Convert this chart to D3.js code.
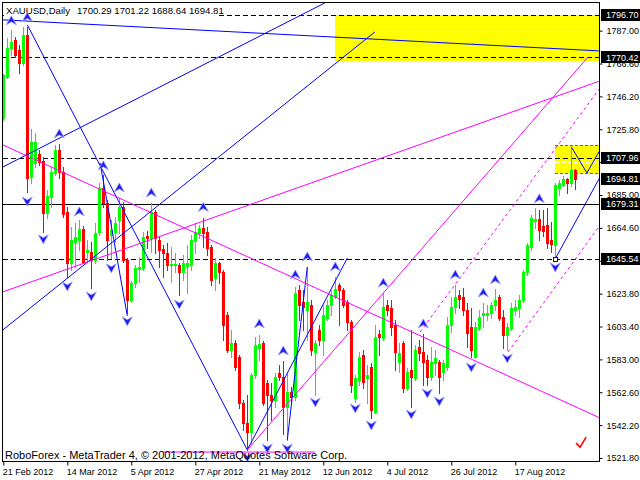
<!DOCTYPE html>
<html><head><meta charset="utf-8">
<script src="https://cdn.jsdelivr.net/npm/d3@7"></script>
<style>body{margin:0;background:#fff}svg{display:block}</style>
</head><body>
<svg id="c" width="640" height="480"></svg>
<script>
const symbolName = "XAUUSD,Daily";
const copyright = "RoboForex - MetaTrader 4, \u00A9 2001-2012, MetaQuotes Software Corp.";

const opens = [1732.9,1758.3,1776.3,1781.3,1775.1,1767.0,1784.4,1696.2,1704.9,1710.5,
1706.2,1673.9,1683.8,1698.7,1713.0,1699.3,1674.5,1642.9,1655.9,1657.1,
1664.0,1649.7,1649.7,1644.7,1662.1,1689.4,1680.1,1660.2,1662.1,1669.6,
1677.6,1644.7,1619.9,1630.4,1639.1,1639.8,1659.6,1658.4,1674.5,1657.1,
1651.6,1649.1,1641.6,1641.6,1641.6,1637.3,1641.0,1641.6,1656.5,1661.5,
1664.6,1662.1,1652.8,1633.6,1642.9,1637.3,1610.6,1588.9,1593.2,1584.5,
1556.0,1543.5,1538.0,1573.3,1590.1,1593.2,1568.4,1560.9,1557.8,1574.6,
1572.1,1553.5,1562.8,1559.7,1626.1,1618.7,1613.7,1616.8,1587.6,1601.3,
1595.1,1608.7,1616.8,1621.8,1629.2,1626.1,1618.7,1606.2,1559.1,1570.2,
1585.8,1571.5,1578.3,1550.4,1598.8,1596.3,1616.8,1614.9,1604.4,1581.4,
1593.2,1565.3,1576.4,1571.5,1590.7,1587.6,1582.7,1572.1,1580.8,1581.4,
1575.2,1578.3,1604.4,1615.5,1623.0,1621.8,1613.7,1603.1,1584.5,1602.5,
1610.6,1610.6,1611.8,1616.8,1621.8,1609.3,1598.2,1602.5,1613.7,1614.9,
1619.9,1637.3,1652.8,1668.9,1670.2,1665.8,1666.4,1657.1,1654.0,1689.4,
1691.3,1695.0,1692.5,1700.29];
const highs = [1760.2,1782.5,1787.5,1783.1,1778.2,1789.3,1789.3,1726.0,1723.6,1713.0,
1708.7,1688.2,1702.4,1716.1,1716.7,1702.4,1677.6,1665.2,1667.7,1669.6,
1665.8,1657.1,1655.9,1667.7,1692.5,1697.5,1682.0,1669.6,1671.4,1683.2,
1680.7,1646.0,1631.7,1641.6,1646.6,1662.1,1662.7,1680.1,1675.8,1659.0,
1654.0,1655.3,1652.8,1649.1,1642.9,1647.8,1654.0,1660.2,1667.7,1666.4,
1670.8,1665.2,1654.0,1646.0,1643.5,1638.5,1612.4,1601.3,1595.1,1585.8,
1557.8,1560.9,1574.6,1596.9,1598.2,1594.4,1570.2,1568.4,1574.6,1579.5,
1582.0,1574.6,1565.9,1628.0,1629.2,1626.1,1640.4,1619.9,1595.1,1604.4,
1616.8,1619.9,1626.1,1634.2,1630.4,1627.3,1619.9,1607.5,1573.3,1587.6,
1588.9,1579.5,1580.8,1604.4,1601.3,1624.2,1619.9,1619.9,1607.5,1593.2,
1594.4,1577.7,1601.3,1592.0,1595.1,1598.8,1585.8,1590.7,1588.9,1582.7,
1582.7,1609.3,1621.8,1629.2,1626.1,1627.3,1618.0,1614.9,1606.2,1613.7,
1618.0,1616.8,1618.7,1626.7,1623.0,1613.7,1605.6,1618.0,1619.9,1623.0,
1638.5,1655.3,1672.7,1677.0,1675.8,1675.8,1677.0,1668.3,1692.5,1694.4,
1696.9,1695.6,1714.2,1701.22];
const lows = [1731.6,1757.7,1772.0,1770.7,1760.8,1765.8,1686.9,1692.5,1702.4,1703.7,
1662.1,1670.8,1677.6,1697.5,1695.6,1671.4,1634.2,1638.5,1640.4,1650.9,
1642.9,1643.5,1627.3,1642.9,1660.2,1677.6,1644.7,1646.0,1655.9,1661.5,
1643.5,1611.8,1618.7,1628.0,1631.1,1638.5,1652.2,1649.7,1649.1,1640.4,
1634.2,1638.5,1631.1,1637.3,1623.0,1632.3,1624.2,1638.5,1649.1,1658.4,
1652.8,1647.8,1629.2,1626.1,1630.4,1595.1,1587.6,1584.5,1576.4,1552.9,
1539.2,1526.8,1531.1,1571.5,1582.7,1554.7,1533.0,1545.4,1553.5,1570.2,
1537.0,1533.0,1556.6,1557.8,1607.5,1601.3,1595.1,1585.8,1560.9,1592.0,
1585.8,1607.5,1610.6,1621.1,1604.4,1615.5,1601.3,1562.8,1556.6,1567.1,
1565.3,1556.0,1546.6,1549.8,1585.8,1595.1,1610.6,1598.2,1576.4,1575.2,
1562.8,1564.0,1553.5,1570.2,1582.7,1567.1,1567.1,1570.2,1573.3,1562.2,
1570.2,1576.4,1600.0,1611.8,1614.9,1610.6,1590.7,1584.5,1583.9,1601.3,
1603.1,1607.5,1608.7,1613.7,1607.5,1590.1,1588.9,1601.3,1610.6,1609.3,
1618.7,1635.4,1650.9,1664.6,1657.1,1659.6,1652.2,1649.7,1645.5,1685.1,
1690.7,1686.3,1690.7,1688.64];
const closes = [1759.6,1776.3,1780.0,1772.0,1767.0,1784.4,1695.6,1718.0,1718.0,1705.6,
1673.9,1684.4,1699.3,1713.0,1699.3,1673.3,1642.9,1657.1,1659.0,1664.0,
1643.5,1650.9,1644.7,1661.5,1689.4,1680.1,1657.1,1663.3,1667.7,1677.6,
1644.7,1619.9,1630.4,1639.8,1640.4,1659.0,1658.4,1674.5,1658.4,1650.9,
1649.1,1641.6,1642.2,1642.2,1637.3,1642.9,1642.9,1657.1,1662.1,1664.6,
1661.5,1652.2,1632.3,1642.9,1637.3,1604.4,1588.9,1593.2,1578.3,1556.0,
1543.5,1538.0,1573.3,1592.0,1592.6,1556.0,1560.9,1557.8,1572.1,1572.1,
1553.5,1562.8,1559.7,1624.2,1616.8,1615.5,1618.7,1588.9,1593.2,1595.1,
1610.6,1616.8,1623.0,1626.7,1626.1,1616.8,1606.2,1567.1,1571.5,1584.5,
1569.0,1573.3,1551.6,1596.9,1596.9,1615.5,1613.7,1603.1,1587.6,1587.0,
1565.3,1575.2,1572.1,1588.9,1587.0,1581.4,1572.1,1581.4,1583.9,1572.1,
1580.8,1604.4,1615.5,1621.8,1620.5,1613.7,1599.4,1588.9,1603.1,1609.3,
1611.8,1611.8,1616.8,1619.9,1608.7,1598.2,1603.1,1614.9,1615.5,1619.9,
1637.3,1654.0,1670.8,1670.2,1663.3,1662.7,1655.3,1654.7,1691.3,1692.5,
1695.0,1692.5,1700.6,1694.81];

const dateLabels = ["21 Feb 2012","14 Mar 2012","5 Apr 2012","27 Apr 2012","21 May 2012","12 Jun 2012","4 Jul 2012","26 Jul 2012","17 Aug 2012"];
const dateLabelBars = [0,16,32,48,64,80,96,112,128];
const yTicks = [1521.80,1542.20,1562.60,1583.00,1603.40,1623.80,1644.20,1664.60,1685.00,1705.40,1725.80,1746.20,1766.60,1787.00];
const yTicksHiddenLabel = [1644.20,1705.40];

const levelPrices = [1796.70,1770.42,1707.96,1679.31,1645.54];
const levelDashed = [true,true,true,false,true];
const tagPrices = [1796.70,1770.42,1707.96,1694.81,1679.31,1645.54];

const boxStartBars = [82.9,138];
const boxEndBars = [149.3,149.3];
const boxTops = [1796.7,1716.1];
const boxBottoms = [1768.2,1698.7];
const boxBorder = [false,true];

const blueLines = [
  [[-0.1,1793.7],[149.2,1774.4]],
  [[6,1790.6],[61,1526.8]],
  [[24.2,1704.9],[31,1610.0]],
  [[-0.1,1702.4],[80.4,1804.2]],
  [[-0.1,1601.3],[92.9,1786.2]],
  [[61,1526.8],[86,1645.9]],
  [[71,1533.0],[76,1640.4]],
  [[138,1645.5],[149.2,1696.2]],
  [[142,1714.9],[145.9,1698.7],[149.2,1713.0]]
];
const magentaLines = [
  [[-0.1,1716.1],[149.2,1546.6]],
  [[-0.1,1624.9],[149.2,1755.8]],
  [[61,1526.8],[146.2,1770.7]],
  [[39.9,1525.5],[77.9,1525.5]]
];
const magentaDashedLines = [
  [[104.2,1600.0],[149.2,1751.5]],
  [[126.2,1587.6],[149.2,1666.4]]
];

const upArrowBars = [2,6,14,19,25,29,37,50,64,70,73,76,83,95,105,113,120,123,134];
const upArrowPrices = [1793.1,1795.2,1722.9,1674.5,1703.1,1689.4,1686.3,1677.3,1605.0,1588.2,1635.4,1646.6,1640.4,1630.4,1605.0,1635.4,1624.2,1632.3,1682.6];
const downArrowBars = [6,10,16,22,27,31,44,61,66,71,78,88,92,102,106,109,117,126,138];
const downArrowPrices = [1681.3,1657.8,1628.6,1622.4,1639.8,1606.9,1617.4,1522.4,1528.0,1528.0,1556.6,1552.9,1542.3,1549.1,1562.2,1557.2,1578.3,1583.9,1640.4];
const squareMarkerBar = 138, squareMarkerPrice = 1645.54;
const checkBar = 144.2, checkPrice = 1531.0;

const FONT = "'Liberation Sans', Arial, sans-serif";
const svg = d3.select("#c");
const x = d3.scaleLinear().domain([0,100]).range([3.3,403.3]);
const y = d3.scaleLinear().domain([1521.8,1796.7]).range([458,15]);
const PL = 3, PR = 599, PT = 3, PB = 461;

svg.append("rect").attr("width",640).attr("height",480).attr("fill","#fff");
svg.append("defs").append("clipPath").attr("id","plot")
  .append("rect").attr("x",PL).attr("y",PT).attr("width",PR-PL).attr("height",PB-PT);
const g = svg.append("g").attr("clip-path","url(#plot)");

// yellow boxes
boxStartBars.forEach((b,i)=>{
  const x0 = Math.round(x(b)), x1 = Math.round(x(boxEndBars[i]));
  const y0 = Math.round(y(boxTops[i])), y1 = Math.round(y(boxBottoms[i]));
  g.append("rect").attr("x",x0).attr("y",y0).attr("width",x1-x0).attr("height",y1-y0).attr("fill","#ffff00");
  if (boxBorder[i]) {
    [y0,y1].forEach(yy=>g.append("line").attr("x1",x0).attr("x2",x1).attr("y1",yy+0.5).attr("y2",yy+0.5)
      .attr("stroke","#ff00ff").attr("stroke-dasharray","3,2"));
  }
});
// grid (white, shows on yellow only)
yTicks.forEach(t=>{
  const yy = Math.round(y(t))+0.5;
  g.append("line").attr("x1",PL).attr("x2",PR).attr("y1",yy).attr("y2",yy)
   .attr("stroke","#fff").attr("stroke-dasharray","4,2");
});
// horizontal levels
levelPrices.forEach((p,i)=>{
  const yy = Math.round(y(p))+0.5;
  g.append("line").attr("x1",PL).attr("x2",PR).attr("y1",yy).attr("y2",yy)
   .attr("stroke","#000").attr("stroke-dasharray",levelDashed[i]?"5,3":null);
});
// title
const last = opens.length-1;
const quoteText = [opens[last],highs[last],lows[last],closes[last]].map(d3.format(".2f")).join(" ");
g.append("rect").attr("x",4).attr("y",4).attr("width",214).attr("height",12).attr("fill","#fff");
g.append("text").attr("x",6).attr("y",14).attr("font-family",FONT).attr("font-size","9.6px").text(symbolName);
g.append("text").attr("x",77).attr("y",14).attr("font-family",FONT).attr("font-size","9.6px").text(quoteText);

// candles
const cg = g.append("g").attr("shape-rendering","crispEdges");
opens.forEach((o,i)=>{
  const c = closes[i], up = c>=o, col = up ? "#00ff00" : "#ff0000";
  const cx = Math.round(x(i));
  const yh = Math.round(y(highs[i])), yl = Math.round(y(lows[i]));
  const yt = Math.round(y(Math.max(o,c))), yb = Math.round(y(Math.min(o,c)));
  cg.append("rect").attr("x",cx).attr("y",yh).attr("width",1).attr("height",Math.max(1,yl-yh+1)).attr("fill",col);
  cg.append("rect").attr("x",cx-1).attr("y",yt).attr("width",3).attr("height",Math.max(1,yb-yt+1)).attr("fill",col);
});

// trend lines
const line = d3.line().x(d=>x(d[0])).y(d=>y(d[1]));
blueLines.forEach(pts=>g.append("path").attr("d",line(pts)).attr("fill","none").attr("stroke","#0000ff").attr("stroke-width",1));
magentaLines.forEach(pts=>g.append("path").attr("d",line(pts)).attr("fill","none").attr("stroke","#ff00ff").attr("stroke-width",1));
magentaDashedLines.forEach(pts=>g.append("path").attr("d",line(pts)).attr("fill","none").attr("stroke","#ff00ff").attr("stroke-width",1).attr("stroke-dasharray","3,3"));

// arrows
const upPath = "M0,-5 L5,4 L0,1 L-5,4 Z";
const downPath = "M0,5 L5,-4 L0,-1 L-5,-4 Z";
upArrowBars.forEach((b,i)=>g.append("path").attr("d",upPath)
  .attr("transform",`translate(${x(b)},${y(upArrowPrices[i])})`)
  .attr("fill","#1c1cf0").attr("stroke","#9a9aff").attr("stroke-width",0.8));
downArrowBars.forEach((b,i)=>g.append("path").attr("d",downPath)
  .attr("transform",`translate(${x(b)},${y(downArrowPrices[i])})`)
  .attr("fill","#1c1cf0").attr("stroke","#9a9aff").attr("stroke-width",0.8));
// square marker
g.append("rect").attr("x",Math.round(x(squareMarkerBar))-2+0.5).attr("y",Math.round(y(squareMarkerPrice))-2+0.5)
  .attr("width",4).attr("height",4).attr("fill","#fff").attr("stroke","#0000ff");
// check mark
const ckx = x(checkBar), cky = y(checkPrice);
g.append("path").attr("d",`M${ckx-4},${cky} L${ckx},${cky+4} L${ckx+6},${cky-6}`)
  .attr("fill","none").attr("stroke","#ff0000").attr("stroke-width",1.6);
// copyright
g.append("text").attr("x",5).attr("y",459).attr("font-family",FONT).attr("font-size","11px").attr("fill","#000").text(copyright);

// frame
svg.append("rect").attr("x",2.5).attr("y",2.5).attr("width",597).attr("height",459)
  .attr("fill","none").attr("stroke","#000");

// right axis
const fmt = d3.format(".2f");
const yAxis = d3.axisRight(y).tickValues(yTicks)
  .tickFormat(d=>yTicksHiddenLabel.includes(d) ? "" : fmt(d)).tickSize(3).tickPadding(4);
const ya = svg.append("g").attr("transform","translate(599.5,0)").call(yAxis);
ya.select(".domain").remove();
ya.selectAll("text").attr("font-family",FONT).attr("font-size","9px").attr("fill","#000");
ya.selectAll("line").attr("stroke","#000");

// price tags
tagPrices.forEach(p=>{
  const yy = y(p);
  svg.append("rect").attr("x",601).attr("y",Math.round(yy)-6).attr("width",39).attr("height",12).attr("fill","#000");
  svg.append("text").attr("x",606).attr("y",yy+3.3).attr("font-family",FONT).attr("font-size","9px")
    .attr("fill","#fff").text(fmt(p));
});

// bottom axis
const xAxis = d3.axisBottom(x).tickValues(dateLabelBars).tickFormat((d,i)=>dateLabels[i]).tickSize(4).tickPadding(3);
const xa = svg.append("g").attr("transform","translate(0,461.5)").call(xAxis);
xa.select(".domain").remove();
xa.selectAll("text").attr("font-family",FONT).attr("font-size","9px").attr("fill","#000")
  .attr("text-anchor","start").attr("x",-1);
xa.selectAll("line").attr("stroke","#000");
</script>
</body></html>
